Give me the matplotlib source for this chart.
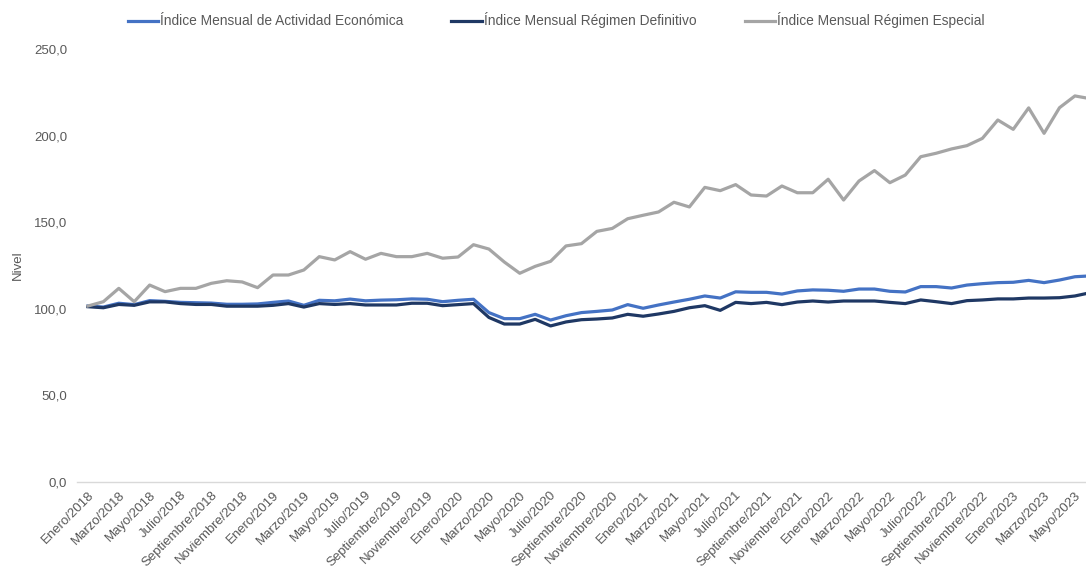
import matplotlib
matplotlib.use("Agg")
import matplotlib.pyplot as plt
from matplotlib.ticker import FuncFormatter

meses = ['Enero', 'Febrero', 'Marzo', 'Abril', 'Mayo', 'Junio', 'Julio', 'Agosto',
         'Septiembre', 'Octubre', 'Noviembre', 'Diciembre']
periodos = [m + '/' + str(a) for a in range(2018, 2024) for m in meses][:66]

# Indice Mensual de Actividad Economica
imae = [101.6, 101.0, 103.2, 102.4, 104.7, 104.3, 103.7, 103.5, 103.3, 102.6, 102.6, 102.8,
        103.7, 104.5, 102.0, 104.9, 104.6, 105.6, 104.6, 105.0, 105.2, 105.7, 105.5, 104.1,
        104.9, 105.5, 97.8, 94.3, 94.3, 96.8, 93.5, 96.0, 97.8, 98.5, 99.3, 102.4,
        100.3, 102.2, 103.9, 105.5, 107.4, 106.2, 109.8, 109.5, 109.5, 108.5, 110.3, 110.9,
        110.7, 110.1, 111.4, 111.4, 110.1, 109.7, 112.8, 112.8, 112.0, 113.7, 114.5, 115.1,
        115.3, 116.4, 115.1, 116.6, 118.5, 119.0]

# Indice Mensual Regimen Definitivo
definitivo = [101.2, 100.6, 102.5, 102.0, 104.0, 104.0, 103.0, 102.5, 102.5, 101.5, 101.5, 101.5,
              102.0, 103.0, 101.0, 103.0, 102.5, 103.0, 102.2, 102.2, 102.2, 103.2, 103.2, 101.8,
              102.4, 103.0, 95.0, 91.2, 91.2, 93.9, 90.1, 92.4, 93.7, 94.1, 94.7, 96.8,
              95.7, 97.0, 98.5, 100.6, 101.8, 99.1, 103.7, 103.0, 103.7, 102.4, 103.9, 104.5,
              103.9, 104.5, 104.5, 104.5, 103.7, 103.0, 105.1, 104.1, 103.0, 104.7, 105.1, 105.7,
              105.7, 106.2, 106.2, 106.4, 107.4, 109.3]

# Indice Mensual Regimen Especial
especial = [101.6, 104.1, 111.8, 104.1, 113.7, 109.9, 111.8, 111.8, 114.7, 116.2, 115.5, 112.2,
            119.5, 119.5, 122.4, 130.1, 128.2, 133.0, 128.6, 132.0, 130.1, 130.1, 132.0, 129.2,
            129.9, 137.0, 134.5, 127.0, 120.5, 124.5, 127.4, 136.3, 137.6, 144.7, 146.4, 152.0,
            154.0, 155.9, 161.5, 158.8, 170.1, 168.2, 171.7, 165.7, 165.1, 170.9, 167.0, 167.0,
            174.8, 162.8, 173.8, 179.8, 172.8, 177.2, 187.8, 189.8, 192.3, 194.2, 198.4, 209.0,
            203.6, 216.0, 201.3, 216.1, 222.9, 221.3]

series = [('Índice Mensual de Actividad Económica', imae, '#4472C4'),
          ('Índice Mensual Régimen Definitivo', definitivo, '#1F3864'),
          ('Índice Mensual Régimen Especial', especial, '#A5A5A5')]

plt.rcParams['font.family'] = ['Liberation Sans', 'DejaVu Sans']

fig = plt.figure(figsize=(10.86, 5.71), dpi=100)
ax = fig.add_axes([0.0709, 0.1559, 0.9402, 0.7583])

x = list(range(len(periodos)))
for nombre, vals, col in series:
    ax.plot(x, vals, color=col, linewidth=2.3, label=nombre)

ax.set_xlim(-0.71, 65.5)
ax.set_ylim(0, 250)
ax.set_yticks([0, 50, 100, 150, 200, 250])
ax.yaxis.set_major_formatter(FuncFormatter(lambda v, p: f'{v:.1f}'.replace('.', ',')))
ax.set_xticks(x[::2])
ax.set_xticklabels(periodos[::2], rotation=45, ha='right', rotation_mode='anchor')

for s in ['top', 'right', 'left']:
    ax.spines[s].set_visible(False)
ax.spines['bottom'].set_color('#D9D9D9')
ax.spines['bottom'].set_linewidth(1.0)
ax.tick_params(axis='both', length=0, colors='#595959', labelsize=9.5)
ax.tick_params(axis='y', pad=7)
ax.tick_params(axis='x', pad=5)

ax.set_ylabel('Nivel', color='#595959', fontsize=9.5)
ax.yaxis.set_label_coords(-0.052, 0.5)

leg = fig.legend(loc='upper center', bbox_to_anchor=(0.512, 1.0), ncol=3, frameon=False,
                 handlelength=2.2, handletextpad=0.15, columnspacing=3.5,
                 prop={'size': 9.9})
for t in leg.get_texts():
    t.set_color('#595959')

fig.savefig('out.png', dpi=100)
